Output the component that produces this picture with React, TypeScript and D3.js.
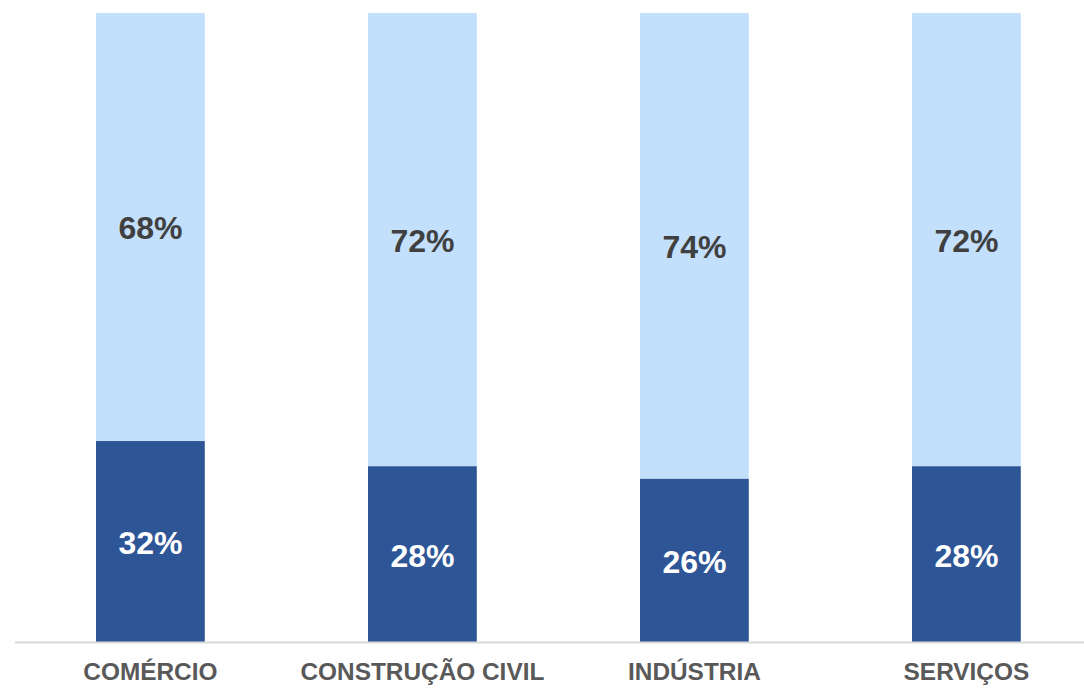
import React from "react";
import * as d3 from "d3";

const categories = ["COMÉRCIO", "CONSTRUÇÃO CIVIL", "INDÚSTRIA", "SERVIÇOS"];
const bottomValues = [32, 28, 26, 28];
const topValues = [68, 72, 74, 72];

const W = 1084;
const H = 688;
const DARK = "#2E5596";
const LIGHT = "#C2DFFC";

export default function App() {
  const x = d3
    .scaleBand<string>()
    .domain(categories)
    .range([14.4, 1102.4])
    .paddingInner(0.6)
    .paddingOuter(0.3);
  const y = d3.scaleLinear().domain([0, 100]).range([642.5, 13]);
  const font = "'Liberation Sans', Arial, sans-serif";

  return (
    <svg
      width={W}
      height={H}
      style={{ position: "absolute", left: 0, top: 0, display: "block", background: "#fff" }}
    >
      {categories.map((c, i) => {
        const x0 = x(c)!;
        const bw = x.bandwidth();
        const b = bottomValues[i];
        const t = topValues[i];
        const cx = x0 + bw / 2;
        return (
          <g key={c}>
            <rect x={x0} y={y(b + t)} width={bw} height={y(b) - y(b + t)} fill={LIGHT} />
            <rect x={x0} y={y(b)} width={bw} height={y(0) - y(b)} fill={DARK} />
            <text
              x={cx}
              y={(y(b) + y(b + t)) / 2}
              dy="0.38em"
              textAnchor="middle"
              fontFamily={font}
              fontWeight="bold"
              fontSize={32}
              fill="#404040"
            >
              {t}%
            </text>
            <text
              x={cx}
              y={(y(0) + y(b)) / 2}
              dy="0.38em"
              textAnchor="middle"
              fontFamily={font}
              fontWeight="bold"
              fontSize={32}
              fill="#ffffff"
            >
              {b}%
            </text>
            <text
              x={cx}
              y={680}
              textAnchor="middle"
              fontFamily={font}
              fontWeight="bold"
              fontSize={24.4}
              fill="#595959"
            >
              {c}
            </text>
          </g>
        );
      })}
      <line x1={15} x2={1084} y1={642.5} y2={642.5} stroke="#d9d9d9" strokeWidth={2} />
    </svg>
  );
}
